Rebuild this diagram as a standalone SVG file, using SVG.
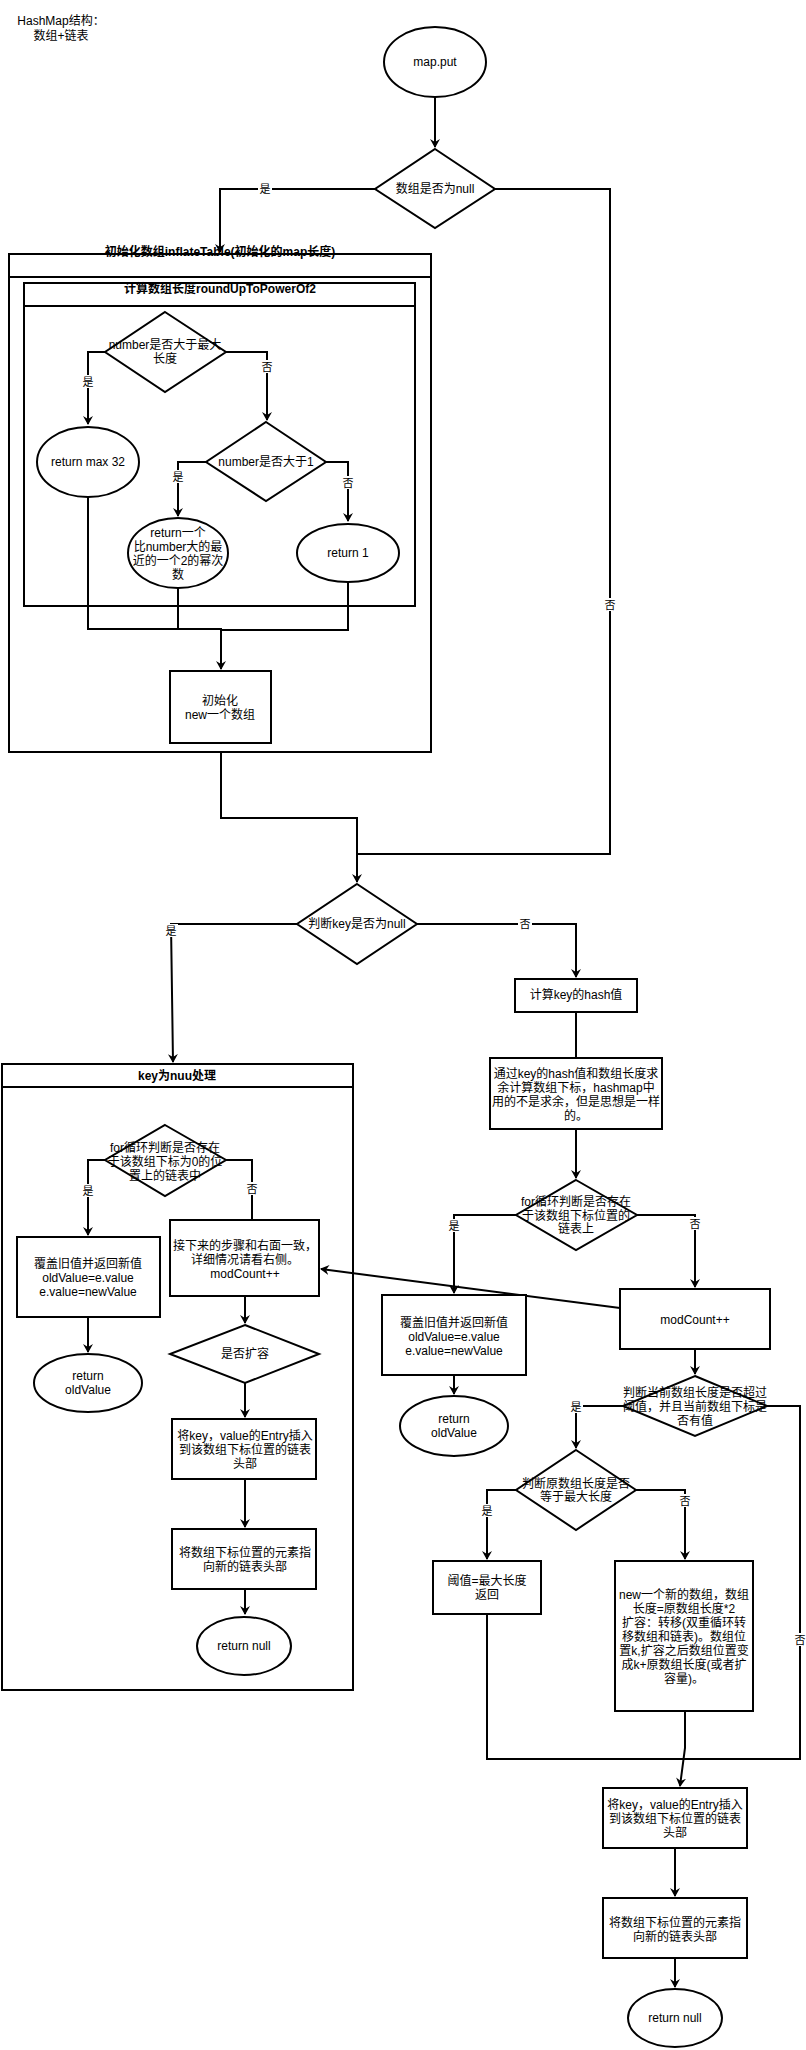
<svg xmlns="http://www.w3.org/2000/svg" width="806" height="2050" viewBox="0 0 806 2050">
<style>
text{font-family:"Liberation Sans","Noto Sans CJK SC",sans-serif;font-size:12px;text-anchor:middle;fill:#000}
.b{font-weight:bold}
.s{fill:#fff;stroke:#000;stroke-width:2}
.c path{fill:none;stroke:#000;stroke-width:2}
.lb{fill:#fff}
.l{font-size:11px}
</style>
<defs><marker id="a" markerWidth="10" markerHeight="10" refX="8" refY="5" orient="auto" markerUnits="userSpaceOnUse"><path d="M0,0 L9,5 L0,10 L3,5z" fill="#000"/></marker></defs>
<rect width="806" height="2050" fill="#fff"/>
<text x="61" y="25">HashMap结构：</text><text x="61" y="40">数组+链表</text>
<g id="outer"><rect class="s" x="9" y="254" width="422" height="498"/><path d="M9 277H431" stroke="#000" stroke-width="2"/><text class="b" x="220" y="256">初始化数组inflateTable(初始化的map长度)</text></g>
<g id="inner"><rect class="s" x="24" y="283" width="391" height="323"/><path d="M24 306H415" stroke="#000" stroke-width="2"/><text class="b" x="220" y="293">计算数组长度roundUpToPowerOf2</text></g>
<g id="keynull"><rect class="s" x="2" y="1064" width="351" height="626"/><path d="M2 1087H353" stroke="#000" stroke-width="2"/><text class="b" x="177" y="1080">key为nuu处理</text></g>
<g class="c" id="connectors">
<path d="M435 97V147" marker-end="url(#a)"/>
<path d="M375 189H220V252" marker-end="url(#a)"/>
<path d="M495 189H610V854H357V882" marker-end="url(#a)"/>
<path d="M165 352H88V424" marker-end="url(#a)"/>
<path d="M226 352H267V420" marker-end="url(#a)"/>
<path d="M206 462H178V516" marker-end="url(#a)"/>
<path d="M326 462H348V521" marker-end="url(#a)"/>
<path d="M88 497V629H221V669" marker-end="url(#a)"/>
<path d="M178 588V629"/><path d="M348 582V630H221"/>
<path d="M221 752V818H357V882"/>
<path d="M297 924H171L173 1062" marker-end="url(#a)"/>
<path d="M417 924H576V977" marker-end="url(#a)"/>
<path d="M576 1012V1178" marker-end="url(#a)"/>
<path d="M105 1160H88V1235" marker-end="url(#a)"/>
<path d="M226 1160H252V1240" marker-end="url(#a)"/>
<path d="M88 1317V1352" marker-end="url(#a)"/>
<path d="M245 1296V1323" marker-end="url(#a)"/>
<path d="M245 1383V1417" marker-end="url(#a)"/>
<path d="M245 1479V1527" marker-end="url(#a)"/>
<path d="M245 1589V1614" marker-end="url(#a)"/>
<path d="M516 1215H454V1293" marker-end="url(#a)"/>
<path d="M637 1215H695V1287" marker-end="url(#a)"/>
<path d="M454 1375V1394" marker-end="url(#a)"/>
<path d="M620 1308L321 1269" marker-end="url(#a)"/>
<path d="M695 1349V1374" marker-end="url(#a)"/>
<path d="M623 1406H576V1448" marker-end="url(#a)"/>
<path d="M767 1406H800V1759H487V1614"/>
<path d="M516 1490H487V1559" marker-end="url(#a)"/>
<path d="M636 1490H685V1559" marker-end="url(#a)"/>
<path d="M685 1711V1748L680 1786" marker-end="url(#a)"/>
<path d="M675 1848V1896" marker-end="url(#a)"/>
<path d="M675 1958V1987" marker-end="url(#a)"/>
</g>
<g id="labels" class="l">
<rect class="lb" x="258" y="182" width="14" height="13"/><text class="l" x="265" y="193">是</text>
<rect class="lb" x="603" y="598" width="14" height="13"/><text class="l" x="610" y="609">否</text>
<rect class="lb" x="81" y="375" width="14" height="13"/><text class="l" x="88" y="386">是</text>
<rect class="lb" x="260" y="360" width="14" height="13"/><text class="l" x="267" y="371">否</text>
<rect class="lb" x="171" y="470" width="14" height="13"/><text class="l" x="178" y="481">是</text>
<rect class="lb" x="341" y="476" width="14" height="13"/><text class="l" x="348" y="487">否</text>
<rect class="lb" x="164" y="924" width="14" height="13"/><text class="l" x="171" y="935">是</text>
<rect class="lb" x="518" y="917" width="14" height="13"/><text class="l" x="525" y="928">否</text>
<rect class="lb" x="81" y="1184" width="14" height="13"/><text class="l" x="88" y="1195">是</text>
<rect class="lb" x="245" y="1182" width="14" height="13"/><text class="l" x="252" y="1193">否</text>
<rect class="lb" x="447" y="1219" width="14" height="13"/><text class="l" x="454" y="1230">是</text>
<rect class="lb" x="688" y="1217" width="14" height="13"/><text class="l" x="695" y="1228">否</text>
<rect class="lb" x="569" y="1400" width="14" height="13"/><text class="l" x="576" y="1411">是</text>
<rect class="lb" x="793" y="1633" width="14" height="13"/><text class="l" x="800" y="1644">否</text>
<rect class="lb" x="480" y="1504" width="14" height="13"/><text class="l" x="487" y="1515">是</text>
<rect class="lb" x="678" y="1494" width="14" height="13"/><text class="l" x="685" y="1505">否</text>
</g>
<g id="mapput"><ellipse class="s" cx="435" cy="62" rx="51" ry="35"/><text x="435" y="66">map.put</text></g>
<g id="d1"><path class="s" d="M435 149L495 189L435 228L375 189Z"/><text x="435" y="193">数组是否为null</text></g>
<g id="dA"><path class="s" d="M165 312L226 352L165 392L105 352Z"/><text x="165" y="349">number是否大于最大</text><text x="165" y="363">长度</text></g>
<g id="e32"><ellipse class="s" cx="88" cy="462" rx="51" ry="35"/><text x="88" y="466">return max 32</text></g>
<g id="dB"><path class="s" d="M266 422L326 462L266 501L206 462Z"/><text x="266" y="466">number是否大于1</text></g>
<g id="epow"><ellipse class="s" cx="178" cy="553" rx="50" ry="35"/><text x="178" y="537">return一个</text><text x="178" y="551">比number大的最</text><text x="178" y="565">近的一个2的幂次</text><text x="178" y="579">数</text></g>
<g id="e1"><ellipse class="s" cx="348" cy="553" rx="51" ry="29"/><text x="348" y="557">return 1</text></g>
<g id="init"><rect class="s" x="170" y="671" width="101" height="72"/><text x="220" y="705">初始化</text><text x="220" y="719">new一个数组</text></g>
<g id="dkey"><path class="s" d="M357 884L417 924L357 964L297 924Z"/><text x="357" y="928">判断key是否为null</text></g>
<g id="hash"><rect class="s" x="515" y="979" width="122" height="33"/><text x="576" y="999">计算key的hash值</text></g>
<g id="idx"><rect class="s" x="490" y="1058" width="172" height="71"/><text x="576" y="1078">通过key的hash值和数组长度求</text><text x="576" y="1092">余计算数组下标，hashmap中</text><text x="576" y="1106">用的不是求余，但是思想是一样</text><text x="576" y="1120">的。</text></g>
<g id="dfl"><path class="s" d="M165 1125L226 1160L165 1196L105 1160Z"/><text x="165" y="1152">for循环判断是否存在</text><text x="165" y="1166">于该数组下标为0的位</text><text x="165" y="1180">置上的链表中</text></g>
<g id="ovl"><rect class="s" x="17" y="1237" width="143" height="80"/><text x="88" y="1268">覆盖旧值并返回新值</text><text x="88" y="1282">oldValue=e.value</text><text x="88" y="1296">e.value=newValue</text></g>
<g id="next"><rect class="s" x="170" y="1220" width="149" height="76"/><text x="245" y="1250">接下来的步骤和右面一致，</text><text x="245" y="1264">详细情况请看右侧。</text><text x="245" y="1278">modCount++</text></g>
<g id="eol"><ellipse class="s" cx="88" cy="1383" rx="54" ry="29"/><text x="88" y="1380">return</text><text x="88" y="1394">oldValue</text></g>
<g id="dexp"><path class="s" d="M245 1325L319 1354L245 1383L170 1354Z"/><text x="245" y="1358">是否扩容</text></g>
<g id="insL"><rect class="s" x="172" y="1419" width="144" height="60"/><text x="245" y="1440">将key，value的Entry插入</text><text x="245" y="1454">到该数组下标位置的链表</text><text x="245" y="1468">头部</text></g>
<g id="ptrL"><rect class="s" x="172" y="1529" width="144" height="60"/><text x="245" y="1557">将数组下标位置的元素指</text><text x="245" y="1571">向新的链表头部</text></g>
<g id="enL"><ellipse class="s" cx="244" cy="1646" rx="47" ry="29"/><text x="244" y="1650">return null</text></g>
<g id="dfr"><path class="s" d="M576 1180L637 1215L576 1250L516 1215Z"/><text x="576" y="1206">for循环判断是否存在</text><text x="576" y="1220">于该数组下标位置的</text><text x="576" y="1233">链表上</text></g>
<g id="ovr"><rect class="s" x="382" y="1295" width="144" height="80"/><text x="454" y="1327">覆盖旧值并返回新值</text><text x="454" y="1341">oldValue=e.value</text><text x="454" y="1355">e.value=newValue</text></g>
<g id="eor"><ellipse class="s" cx="454" cy="1426" rx="54" ry="30"/><text x="454" y="1423">return</text><text x="454" y="1437">oldValue</text></g>
<g id="mod"><rect class="s" x="620" y="1289" width="150" height="60"/><text x="695" y="1324">modCount++</text></g>
<g id="dth"><path class="s" d="M695 1376L767 1406L695 1436L623 1406Z"/><text x="695" y="1397">判断当前数组长度是否超过</text><text x="695" y="1411">阈值，并且当前数组下标是</text><text x="695" y="1425">否有值</text></g>
<g id="dmax"><path class="s" d="M576 1450L636 1490L576 1530L516 1490Z"/><text x="576" y="1488">判断原数组长度是否</text><text x="576" y="1501">等于最大长度</text></g>
<g id="thr"><rect class="s" x="433" y="1561" width="108" height="53"/><text x="487" y="1585">阈值=最大长度</text><text x="487" y="1599">返回</text></g>
<g id="newarr"><rect class="s" x="615" y="1561" width="138" height="150"/><text x="684" y="1599">new一个新的数组，数组</text><text x="684" y="1613">长度=原数组长度*2</text><text x="684" y="1627">扩容：转移(双重循环转</text><text x="684" y="1641">移数组和链表)。数组位</text><text x="684" y="1655">置k,扩容之后数组位置变</text><text x="684" y="1669">成k+原数组长度(或者扩</text><text x="684" y="1683">容量)。</text></g>
<g id="insR"><rect class="s" x="603" y="1788" width="144" height="60"/><text x="675" y="1809">将key，value的Entry插入</text><text x="675" y="1823">到该数组下标位置的链表</text><text x="675" y="1837">头部</text></g>
<g id="ptrR"><rect class="s" x="603" y="1898" width="144" height="60"/><text x="675" y="1927">将数组下标位置的元素指</text><text x="675" y="1941">向新的链表头部</text></g>
<g id="enR"><ellipse class="s" cx="675" cy="2018" rx="47" ry="29"/><text x="675" y="2022">return null</text></g>
</svg>
